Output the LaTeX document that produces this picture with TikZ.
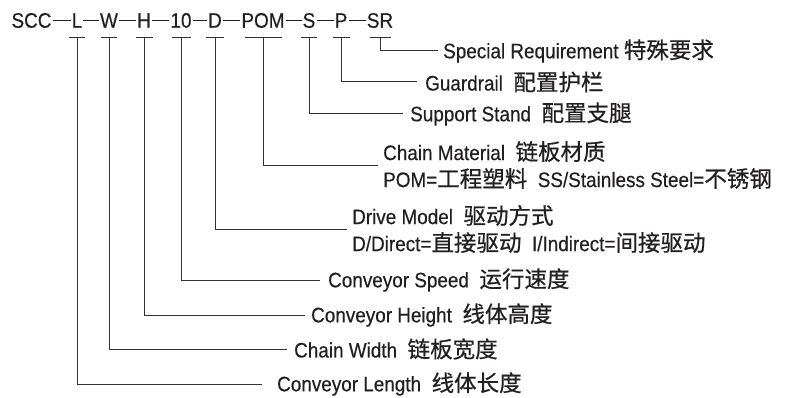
\documentclass[tikz,border=0pt]{standalone}
\usepackage{fontspec}
\setmainfont[FakeStretch=0.9,FakeBold=0.4]{Liberation Sans}
\newfontfamily\cjk[FakeBold=0.6]{Noto Sans CJK SC}
\newcommand\zh[1]{{\cjk\fontsize{22.5}{28}\selectfont #1}}
\definecolor{ink}{RGB}{35,31,32}
\definecolor{leadc}{RGB}{55,50,50}
\begin{document}
\begin{tikzpicture}[x=1pt,y=-1pt,
  code/.style={inner sep=0pt, text=ink, font=\fontsize{21}{27}\selectfont},
  desc/.style={anchor=west, inner sep=0pt, align=left, text=ink, font=\fontsize{21}{27}\selectfont},
  lead/.style={draw=leadc, line width=1pt},
  dashln/.style={draw=ink, line width=1.5pt}]
\useasboundingbox (0,0) rectangle (791,398);
\fill[white] (0,0) rectangle (791,398);
% code row
\node[code] (SCC) at (31.5,20.5) {SCC};
\node[code] (L)   at (77,20.5) {L};
\node[code] (W)   at (109,20.5) {W};
\node[code] (H)   at (144,20.5) {H};
\node[code] (T10) at (181,20.5) {10};
\node[code] (D)   at (215,20.5) {D};
\node[code] (POM) at (263,20.5) {POM};
\node[code] (S)   at (309,20.5) {S};
\node[code] (P)   at (341,20.5) {P};
\node[code] (SR)  at (380,20.5) {SR};
\foreach \a/\b in {SCC/L,L/W,W/H,H/T10,T10/D,D/POM,POM/S,S/P,P/SR}
  \draw[dashln] ([xshift=1pt]\a.east) -- ([xshift=-1pt]\b.west);
\coordinate (barY) at (0,38);
\foreach \n/\w in {L/8,W/8,H/8.5,T10/9.5,D/9,POM/18.5,S/8,P/8.5,SR/10.5}
  \draw[lead] ([xshift=-\w pt]\n.center |- barY) -- ([xshift=\w pt]\n.center |- barY);
% descriptions
\node[desc] (dSR)  at (443,51) {Special Requirement \zh{特殊要求}};
\node[desc] (dP)   at (425,82) {Guardrail\ \ \zh{配置护栏}};
\node[desc] (dS)   at (410,114) {Support Stand\ \ \zh{配置支腿}};
\node[desc] (dPOM) at (383,165) {Chain Material\ \ \zh{链板材质}\\POM=\zh{工程塑料}\ \ SS/Stainless Steel=\zh{不锈钢}};
\node[desc] (dD)   at (352,229) {Drive Model\ \ \zh{驱动方式}\\D/Direct=\zh{直接驱动}\ \ I/Indirect=\zh{间接驱动}};
\node[desc] (d10)  at (328,280) {Conveyor Speed\ \ \zh{运行速度}};
\node[desc] (dH)   at (311,315) {Conveyor Height\ \ \zh{线体高度}};
\node[desc] (dW)   at (294,349) {Chain Width\ \ \zh{链板宽度}};
\node[desc] (dL)   at (277,384) {Conveyor Length\ \ \zh{线体长度}};
% leaders
\draw[lead] (SR |- barY) |- ([xshift=-5pt]dSR.west);
\draw[lead] (P |- barY) |- ([xshift=-8pt]dP.west);
\draw[lead] (S |- barY) |- ([xshift=-7pt]dS.west);
\draw[lead] (POM |- barY) |- ([xshift=-5pt]dPOM.west);
\draw[lead] (D |- barY) |- ([xshift=-5pt]dD.west);
\draw[lead] (T10 |- barY) |- ([xshift=-8pt]d10.west);
\draw[lead] (H |- barY) |- ([xshift=-6pt]dH.west);
\draw[lead] (W |- barY) |- ([xshift=-7pt]dW.west);
\draw[lead] (L |- barY) |- ([xshift=-15pt]dL.west);
\end{tikzpicture}
\end{document}
